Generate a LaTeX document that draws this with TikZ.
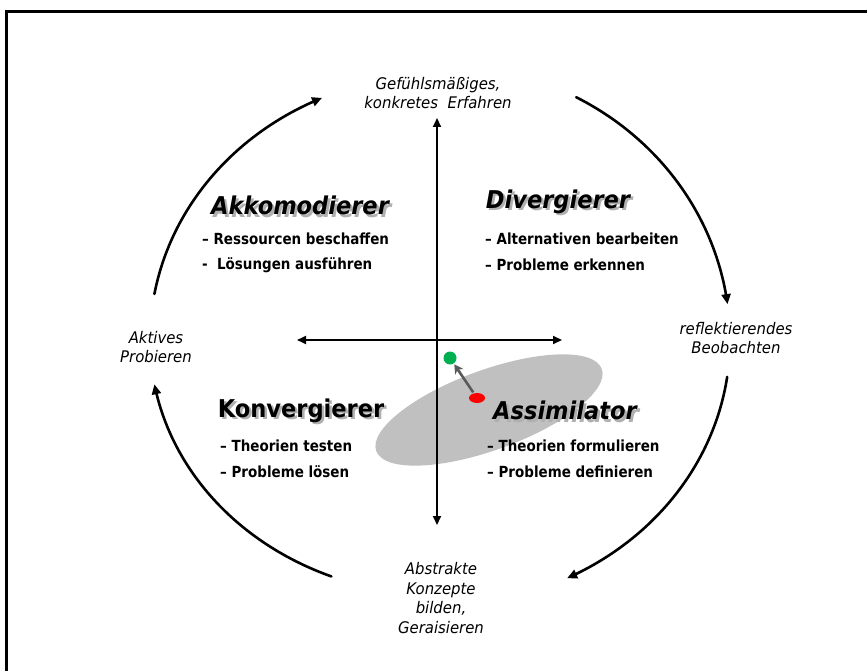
\documentclass[tikz,border=0pt]{standalone}
\usepackage{fontspec}
\setmainfont{DejaVu Sans}
\newfontfamily\itemfont[FakeStretch=0.88]{DejaVu Sans}
\newfontfamily\phasefont[FakeStretch=0.93]{DejaVu Sans}
\newfontfamily\typfont[FakeStretch=0.92]{DejaVu Sans}
\usetikzlibrary{arrows.meta,shapes.geometric}

\definecolor{cloudgray}{HTML}{C0C0C0}
\definecolor{dotgreen}{HTML}{00B050}
\definecolor{dotred}{HTML}{FF0000}
\definecolor{shiftgray}{HTML}{5A5A5A}
\definecolor{shadowgray}{HTML}{B0B0B0}

% text with a soft gray drop shadow behind it
\newcommand{\shadowed}[1]{\makebox[0pt][l]{\hspace{2.5pt}\raisebox{-2.5pt}{\textcolor{shadowgray}{#1}}}#1}

\tikzset{
  phase/.style={font=\phasefont\itshape\fontsize{16}{19.5}\selectfont, align=center, inner sep=0pt},
  typ/.style={font=\typfont\bfseries\itshape\fontsize{24.5}{28}\selectfont, inner sep=0pt},
  typup/.style={font=\typfont\bfseries\fontsize{24.5}{28}\selectfont, inner sep=0pt},
  item/.style={font=\itemfont\bfseries\fontsize{15.3}{18}\selectfont, anchor=west, inner sep=0pt},
  cyclearrow/.style={line width=2.6pt, line cap=round, {Triangle[length=10pt,width=9pt]}-},
  axis/.style={line width=2pt, {Triangle[length=9pt,width=8pt]}-{Triangle[length=9pt,width=8pt]}},
}

\begin{document}
\begin{tikzpicture}[x=1pt,y=-1pt]
\useasboundingbox (0,0) rectangle (867,671);

% frame (top and left edges)
\draw[line width=3pt] (6,671) -- (6,12) -- (867,12);

% shaded region and the shift of the learner
\node[ellipse, fill=cloudgray, minimum width=240, minimum height=80, rotate=20, inner sep=0pt] (cloud) at (489,410) {};

% axes
\coordinate (vtop) at (437,118);
\coordinate (vbot) at (437,525);
\coordinate (hleft) at (297,340);
\coordinate (hright) at (562,340);
\draw[axis] (vtop) -- (vbot);
\draw[axis] (hleft) -- (hright);

\node[circle, fill=dotgreen, minimum size=13pt, inner sep=0pt] (green) at (450,358) {};
\node[ellipse, fill=dotred, minimum width=16pt, minimum height=10pt, inner sep=0pt] (red) at (477,398) {};
\draw[shiftgray, line width=2.6pt, -{Stealth[length=9pt,width=10pt]}, shorten <=1pt, shorten >=1pt] (red) -- (green);

% the four phases of the cycle
\node[phase] (top) at (438,93) {Gefühlsmäßiges,\\konkretes\ \ Erfahren};
\node[phase] (right) at (736,338) {reflektierendes\\Beobachten};
\node[phase] (bottom) at (441,598) {Abstrakte\\Konzepte\\bilden,\\Geraisieren};
\node[phase] (left) at (156,347) {Aktives\\Probieren};

% cycle arrows
\draw[cyclearrow] plot[domain=114:170, samples=50, smooth] ({440+290*cos(\x)},{340-265*sin(\x)});
\draw[cyclearrow] plot[domain=7.5:62, samples=50, smooth] ({440+290*cos(\x)},{340-275*sin(\x)});
\draw[cyclearrow] plot[domain=-64:-8, samples=50, smooth] ({440+290*cos(\x)},{340-265*sin(\x)});
\draw[cyclearrow] plot[domain=-170:-112, samples=50, smooth] ({440+290*cos(\x)},{340-255*sin(\x)});

% learning types
\node[typ] (akk) at (300,207) {\shadowed{Akkomodierer}};
\node[item] (akk1) at (202,239) {– Ressourcen beschaffen};
\node[item] (akk2) at (202,265) {-\ \ Lösungen ausführen};

\node[typ] (div) at (558,203) {\shadowed{Divergierer}};
\node[item] (div1) at (485,239) {– Alternativen bearbeiten};
\node[item] (div2) at (485,265) {– Probleme erkennen};

\node[typup] (kon) at (301,412) {\shadowed{Konvergierer}};
\node[item] (kon1) at (220,446) {– Theorien testen};
\node[item] (kon2) at (220,472) {– Probleme lösen};

\node[typ] (ass) at (565,412) {\shadowed{Assimilator}};
\node[item] (ass1) at (487,446) {– Theorien formulieren};
\node[item] (ass2) at (487,472) {– Probleme definieren};
\end{tikzpicture}
\end{document}
